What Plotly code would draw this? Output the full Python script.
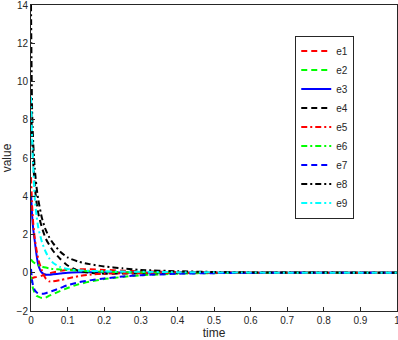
import plotly.graph_objects as go

# time samples shared by all error signals
t = [0, 0.003, 0.006, 0.01, 0.015, 0.02, 0.03, 0.04, 0.05, 0.06, 0.08, 0.1,
     0.13, 0.16, 0.2, 0.25, 0.3, 0.4, 0.5, 0.6, 0.7, 0.8, 0.9, 1.0]

e1 = [-0.3, -0.28, -0.26, -0.24, -0.22, -0.2, -0.15, -0.1, -0.04, 0.02, 0.1, 0.15,
      0.18, 0.18, 0.15, 0.11, 0.08, 0.04, 0.02, 0.01, 0.0, 0.0, 0.0, 0.0]
e2 = [-0.2, -0.6, -0.85, -1.05, -1.2, -1.25, -1.32, -1.3, -1.2, -1.12, -0.95, -0.8,
      -0.6, -0.47, -0.33, -0.22, -0.13, -0.05, -0.02, -0.01, 0.0, 0.0, 0.0, 0.0]
e3 = [4.2, 3.0, 2.3, 1.7, 0.95, 0.4, 0.0, -0.1, -0.1, -0.08, -0.04, 0.0,
      0.02, 0.02, 0.02, 0.01, 0.01, 0.0, 0.0, 0.0, 0.0, 0.0, 0.0, 0.0]
e4 = [9.0, 7.0, 5.8, 4.6, 3.7, 3.1, 2.35, 1.8, 1.45, 1.15, 0.72, 0.38,
      0.1, 0.0, -0.05, -0.04, -0.03, -0.01, 0.0, 0.0, 0.0, 0.0, 0.0, 0.0]
e5 = [5.0, 3.5, 2.6, 1.85, 1.2, 0.7, 0.1, -0.3, -0.45, -0.45, -0.38, -0.3,
      -0.18, -0.1, -0.05, -0.03, -0.02, -0.01, 0.0, 0.0, 0.0, 0.0, 0.0, 0.0]
e6 = [0.7, 0.62, 0.56, 0.5, 0.44, 0.4, 0.32, 0.27, 0.23, 0.2, 0.17, 0.14,
      0.11, 0.08, 0.05, 0.03, 0.02, 0.01, 0.0, 0.0, 0.0, 0.0, 0.0, 0.0]
e7 = [0.2, -0.4, -0.7, -0.9, -1.02, -1.08, -1.1, -1.07, -1.0, -0.94, -0.8, -0.65,
      -0.5, -0.4, -0.3, -0.2, -0.13, -0.05, -0.02, -0.01, 0.0, 0.0, 0.0, 0.0]
e8 = [14.0, 8.5, 6.8, 5.5, 4.5, 3.8, 2.85, 2.25, 1.85, 1.55, 1.1, 0.8,
      0.58, 0.45, 0.33, 0.23, 0.15, 0.08, 0.04, 0.02, 0.01, 0.01, 0.0, 0.0]
e9 = [9.2, 7.0, 5.6, 4.0, 3.0, 2.35, 1.6, 1.1, 0.75, 0.52, 0.3, 0.2,
      0.13, 0.1, 0.08, 0.06, 0.05, 0.03, 0.02, 0.01, 0.0, 0.0, 0.0, 0.0]

names = ['e1', 'e2', 'e3', 'e4', 'e5', 'e6', 'e7', 'e8', 'e9']
series = [e1, e2, e3, e4, e5, e6, e7, e8, e9]
colors = ['#ff0000', '#00ff00', '#0000ff', '#000000', '#ff0000',
          '#00ff00', '#0000ff', '#000000', '#00ffff']
dashed = '6px,4px'
dashdot = '6px,3px,2px,3px'
dashes = [dashed, dashed, 'solid', dashed, dashdot, dashdot, dashed, dashdot, dashdot]

fig = go.Figure()
for name, y, c, d in zip(names, series, colors, dashes):
    fig.add_trace(go.Scatter(x=t, y=y, mode='lines', name=name,
                             line=dict(color=c, dash=d, width=2, shape='spline', smoothing=0.6)))

axis_style = dict(showline=True, linecolor='#262626', linewidth=1, mirror=True,
                  ticks='inside', ticklen=4, tickcolor='#262626', showgrid=False,
                  zeroline=False, automargin=False, ticklabeloverflow='allow',
                  tickfont=dict(size=10, color='#262626'))

fig.update_layout(
    width=398, height=340,
    margin=dict(l=31, r=1, t=5, b=29, autoexpand=False),
    paper_bgcolor='white', plot_bgcolor='white',
    font=dict(family='Liberation Sans, Arial, sans-serif', size=10, color='#262626'),
    xaxis=dict(range=[0, 1], dtick=0.1, title=dict(text='time', standoff=0), **axis_style),
    yaxis=dict(range=[-2, 14], dtick=2, title=dict(text='value', standoff=2), **axis_style),
    legend=dict(x=0.722, y=0.9, xanchor='left', yanchor='top', bgcolor='white',
                bordercolor='#262626', borderwidth=1, font=dict(size=10),
                itemwidth=30),
    showlegend=True,
)

# the page's default body margin would shift the figure by 8px
fig.write_html("out.html", config={'displayModeBar': False},
               post_script="document.body.style.margin='0';")
